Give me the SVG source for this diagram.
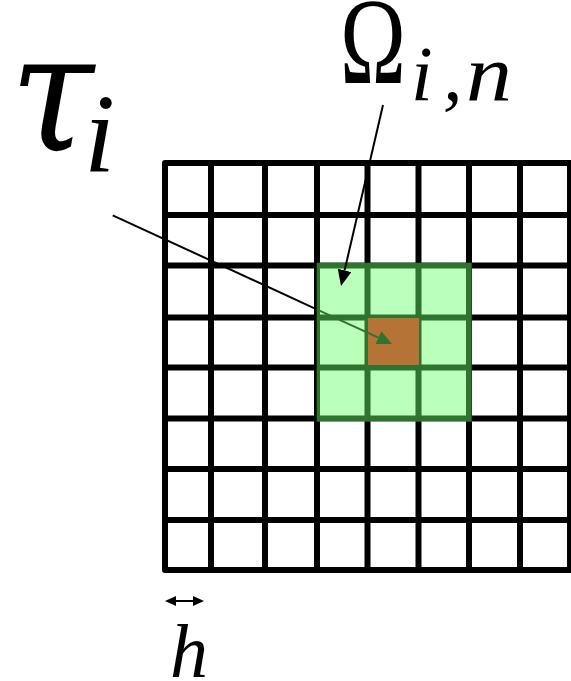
<svg xmlns="http://www.w3.org/2000/svg" width="571" height="681" viewBox="0 0 571 681">
<style>
.grid{fill:none;stroke:#000;stroke-width:6;stroke-linejoin:round;stroke-linecap:butt}
.math{font-family:"Liberation Serif","DejaVu Serif",serif;font-style:italic;fill:#000}
.tau{font-family:"DejaVu Serif",serif;font-style:italic;fill:#000}
.up{font-family:"Liberation Serif","DejaVu Serif",serif;fill:#000}
.conn{fill:none;stroke-width:2}
</style>
<defs>
<marker id="ah" viewBox="0 0 16 14" refX="0" refY="7" markerWidth="16" markerHeight="14" markerUnits="userSpaceOnUse" orient="auto">
<path d="M0,0 L16,7 L0,14 z" fill="#000"/>
</marker>
<marker id="ahg" viewBox="0 0 15 14" refX="0" refY="7" markerWidth="15" markerHeight="14" markerUnits="userSpaceOnUse" orient="auto">
<path d="M0,0 L15,7 L0,14 z" fill="#2e732e"/>
</marker>
<marker id="ahs" viewBox="0 0 11 10" refX="0" refY="5" markerWidth="11" markerHeight="10" markerUnits="userSpaceOnUse" orient="auto-start-reverse">
<path d="M0,0 L11,5 L0,10 z" fill="#000"/>
</marker>
</defs>
<rect width="571" height="681" fill="#fff"/>
<g id="grid">
<path class="grid" d="M211,163V570 M265,163V570 M317,163V570 M367.5,163V570 M418.5,163V570 M469,163V570 M520,163V570 M165,215H570 M165,265.5H570 M165,317.5H570 M165,367.5H570 M165,418.5H570 M165,469H570 M165,520H570"/>
<rect class="grid" x="165" y="163" width="405" height="407"/>
</g>
<g id="cell-tau">
<rect x="368" y="318" width="51" height="47" fill="#f70010"/>
</g>
<g id="patch-omega">
<rect x="316.7" y="262.7" width="155" height="159" fill="#67ff67" fill-opacity="0.45"/>
</g>
<g id="connectors">
<path class="conn" stroke="#000" d="M112.7,215.3 L316.7,309.3"/>
<path class="conn" stroke="#2e732e" d="M316.7,309.3 L378.4,337.7" marker-end="url(#ahg)"/>
<path class="conn" stroke="#000" d="M383,105 L344.6,270.4" marker-end="url(#ah)"/>
<path class="conn" stroke="#000" d="M176,601 L193,601" marker-start="url(#ahs)" marker-end="url(#ahs)"/>
</g>
<g id="label-tau">
<text class="tau" x="10" y="150" font-size="165" textLength="84" lengthAdjust="spacingAndGlyphs">τ</text>
<text class="math" x="84" y="172" font-size="112">i</text>
</g>
<g id="label-omega">
<text class="up" x="340" y="83" font-size="122" textLength="66" lengthAdjust="spacingAndGlyphs">Ω</text>
<text class="math" x="411" y="100" font-size="78">i</text>
<text class="math" x="443" y="100" font-size="78">,</text>
<text class="math" x="466" y="100" font-size="80" textLength="46" lengthAdjust="spacingAndGlyphs">n</text>
</g>
<g id="label-h">
<text class="math" x="170" y="677" font-size="76">h</text>
</g>
</svg>
